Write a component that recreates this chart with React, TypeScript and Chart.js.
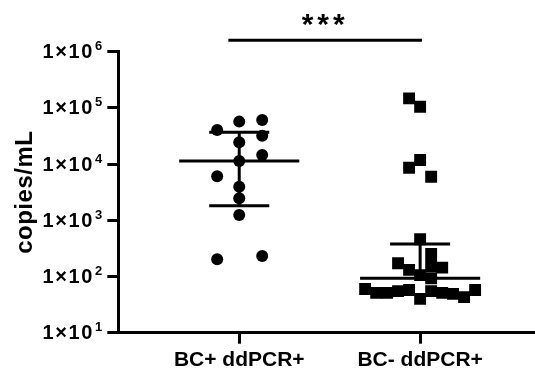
import { useEffect, useRef } from "react";
import { Chart, registerables } from "chart.js";

Chart.register(...registerables);

// ---- data ----
const categories = ["BC+ ddPCR+", "BC- ddPCR+"];
const yTickValues = [1e1, 1e2, 1e3, 1e4, 1e5, 1e6];
const yAxisTitle = "copies/mL";
const significanceLabel = "***";

// BC+ ddPCR+ (circles): x = group position incl. scatter offset, y = copies/mL
const bcPosX = [0.878, 1, 1.127, 1.127, 1, 1, 1.127, 0.878, 1, 1, 1, 0.878, 1.127];
const bcPosY = [40500, 57000, 61000, 32000, 24500, 11300, 14500, 6100, 3960, 2460, 1240, 202, 232];

// BC- ddPCR+ (squares)
const bcNegX = [
  1.939, 2, 1.939, 2, 2.061, 2, 2.061, 1.878, 1.939, 2.061, 2.122, 2, 2.061,
  1.696, 1.757, 1.818, 1.878, 1.939, 2, 2.061, 2.122, 2.182, 2.243, 2.304,
];
const bcNegY = [
  148000, 105000, 8600, 11800, 5970, 459, 251, 172, 131, 154, 144, 106, 93,
  60, 51, 51, 55, 57.5, 40, 55, 51, 49, 43, 57.5,
];

// geometric mean with SD bars
const groupMeans = [11300, 93];
const groupUpper = [36800, 380];
const groupLower = [1820, 93];

// ---- layout / style constants ----
const FONT = "'Liberation Sans', Arial, sans-serif";
const MEAN_HALF = 0.332;
const WHISKER_HALF = 0.166;
const SIG_FROM = 0.94;
const SIG_TO = 2.01;
const SIG_LEVEL = 1.6e6;

const overlay = {
  id: "overlay",
  afterDatasetsDraw(chart: any) {
    const { ctx, scales } = chart;
    const x = scales.x;
    const y = scales.y;
    ctx.save();
    ctx.strokeStyle = "#000";
    ctx.lineCap = "butt";
    ctx.lineWidth = 3;
    groupMeans.forEach((m, i) => {
      const c = i + 1;
      const cx = x.getPixelForValue(c);
      const pm = y.getPixelForValue(m);
      const pu = y.getPixelForValue(groupUpper[i]);
      const pl = y.getPixelForValue(groupLower[i]);
      ctx.beginPath();
      ctx.moveTo(x.getPixelForValue(c - MEAN_HALF), pm);
      ctx.lineTo(x.getPixelForValue(c + MEAN_HALF), pm);
      ctx.moveTo(cx, pu);
      ctx.lineTo(cx, pl);
      ctx.moveTo(x.getPixelForValue(c - WHISKER_HALF), pu);
      ctx.lineTo(x.getPixelForValue(c + WHISKER_HALF), pu);
      if (pl - pm > 1) {
        ctx.moveTo(x.getPixelForValue(c - WHISKER_HALF), pl);
        ctx.lineTo(x.getPixelForValue(c + WHISKER_HALF), pl);
      }
      ctx.stroke();
    });
    ctx.restore();
  },
  afterDraw(chart: any) {
    const { ctx, scales, chartArea } = chart;
    const x = scales.x;
    const y = scales.y;
    ctx.save();
    ctx.fillStyle = "#000";
    ctx.strokeStyle = "#000";
    // y tick labels 1×10^n
    const labelRight = chartArea.left - 16;
    yTickValues.forEach((v) => {
      const py = y.getPixelForValue(v);
      const exp = String(Math.round(Math.log10(v)));
      ctx.letterSpacing = "0px";
      ctx.font = `bold 13px ${FONT}`;
      ctx.textAlign = "right";
      ctx.textBaseline = "middle";
      const ew = ctx.measureText(exp).width;
      ctx.fillText(exp, labelRight, py - 5);
      ctx.font = `bold 20px ${FONT}`;
      ctx.letterSpacing = "1.6px";
      ctx.fillText("1×10", labelRight - ew - 1, py + 1);
    });
    ctx.letterSpacing = "0px";
    // x category labels
    ctx.font = `bold 21px ${FONT}`;
    ctx.textAlign = "center";
    ctx.textBaseline = "alphabetic";
    categories.forEach((c, i) => {
      ctx.fillText(c, x.getPixelForValue(i + 1), 366);
    });
    // y axis title
    ctx.save();
    ctx.translate(25, (chartArea.top + chartArea.bottom) / 2);
    ctx.rotate(-Math.PI / 2);
    ctx.font = `bold 24px ${FONT}`;
    ctx.letterSpacing = "0.5px";
    ctx.textAlign = "center";
    ctx.textBaseline = "middle";
    ctx.fillText(yAxisTitle, 0, 0);
    ctx.restore();
    // significance bar
    const sy = y.getPixelForValue(SIG_LEVEL);
    ctx.lineWidth = 3;
    ctx.beginPath();
    ctx.moveTo(x.getPixelForValue(SIG_FROM), sy);
    ctx.lineTo(x.getPixelForValue(SIG_TO), sy);
    ctx.stroke();
    ctx.font = `bold 30px ${FONT}`;
    ctx.letterSpacing = "4px";
    ctx.textAlign = "center";
    ctx.textBaseline = "alphabetic";
    ctx.fillText(significanceLabel, x.getPixelForValue((SIG_FROM + SIG_TO) / 2), sy - 6);
    ctx.restore();
  },
};

export default function App() {
  const ref = useRef<HTMLCanvasElement>(null);
  useEffect(() => {
    if (!ref.current) return;
    const chart = new Chart(ref.current, {
      type: "scatter",
      data: {
        datasets: [
          {
            label: categories[0],
            data: bcPosX.map((xv, i) => ({ x: xv, y: bcPosY[i] })),
            pointStyle: "circle",
            pointRadius: 6,
            pointHoverRadius: 6,
            pointBorderWidth: 0,
            backgroundColor: "#000",
            borderColor: "#000",
          },
          {
            label: categories[1],
            data: bcNegX.map((xv, i) => ({ x: xv, y: bcNegY[i] })),
            pointStyle: "rect",
            pointRadius: 8.4,
            pointHoverRadius: 8.4,
            pointBorderWidth: 0,
            backgroundColor: "#000",
            borderColor: "#000",
          },
        ],
      },
      options: {
        animation: false,
        responsive: false,
        events: [],
        layout: { autoPadding: false, padding: { left: 107.3, top: 51.7, right: 0, bottom: 26.3 } },
        plugins: { legend: { display: false }, tooltip: { enabled: false } },
        scales: {
          x: {
            type: "linear",
            min: 0.3315,
            max: 2.635,
            afterBuildTicks: (s: any) => {
              s.ticks = categories.map((_, i) => ({ value: i + 1 }));
            },
            ticks: { display: false },
            grid: {
              drawOnChartArea: false,
              drawTicks: true,
              tickLength: 11,
              tickWidth: 3,
              tickColor: "#000",
            },
            border: { display: true, color: "#000", width: 3 },
          },
          y: {
            type: "logarithmic",
            min: 10,
            max: 1e6,
            afterBuildTicks: (s: any) => {
              s.ticks = yTickValues.map((v) => ({ value: v }));
            },
            ticks: { display: false },
            grid: {
              drawOnChartArea: false,
              drawTicks: true,
              tickLength: 11,
              tickWidth: 3,
              tickColor: "#000",
            },
            border: { display: true, color: "#000", width: 3 },
          },
        },
      },
      plugins: [overlay],
    });
    return () => chart.destroy();
  }, []);
  return (
    <div style={{ position: "fixed", left: 0, top: 0, width: 535, height: 370, background: "#fff" }}>
      <canvas ref={ref} width={535} height={370} style={{ display: "block" }} />
    </div>
  );
}
